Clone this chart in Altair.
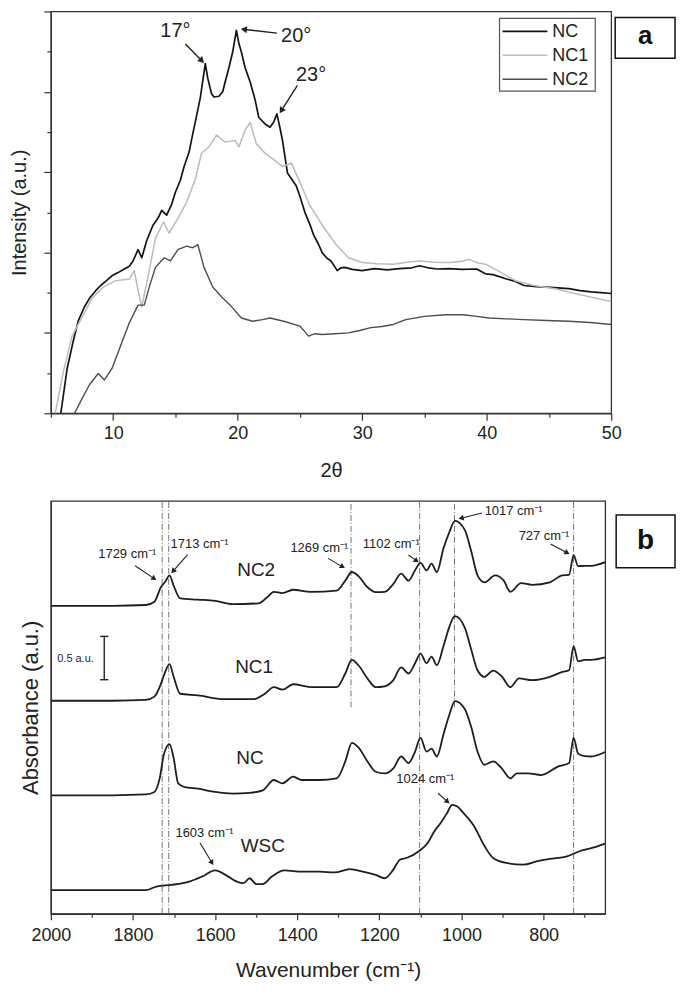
import math
import altair as alt
import pandas as pd

FONT = "Liberation Sans"
INK = "#222222"

# ---------------- panel a : XRD (2θ, intensity a.u.) ----------------
NC_XRD = [(5.8,0.0),(6.3,1.1),(6.8,1.8),(7.2,2.3),(7.7,2.65),(8.1,2.86),(8.6,3.05),(9.0,3.18),(9.4,3.28),(9.9,3.42),
          (10.4,3.5),(10.9,3.59),(11.3,3.66),(11.6,3.79),(12.0,4.07),(12.3,3.87),(12.7,4.3),(13.2,4.68),(13.6,4.85),(13.9,5.05),
          (14.3,4.93),(14.7,5.2),(15.0,5.5),(15.4,5.8),(15.7,6.14),(16.1,6.5),(16.4,6.96),(16.7,7.4),(17.0,7.85),(17.4,8.70),
          (17.6,8.34),(17.9,7.95),(18.1,7.87),(18.5,7.89),(18.8,8.0),(19.0,8.25),(19.3,8.6),(19.6,8.99),(19.9,9.53),(20.1,9.2),
          (20.3,8.99),(20.6,8.6),(21.0,8.25),(21.4,7.8),(21.7,7.36),(22.2,7.2),(22.6,7.12),(22.9,7.25),(23.15,7.45),(23.4,7.1),
          (23.6,6.79),(24.0,5.98),(24.4,5.8),(24.7,5.66),(25.0,5.4),(25.4,5.0),(25.8,4.7),(26.1,4.44),(26.5,4.2),(26.8,3.99),
          (27.2,3.85),(27.5,3.79),(28.0,3.55),(28.3,3.62),(28.6,3.63),(29.2,3.58),(30.0,3.55),(31.0,3.6),(32.0,3.57),(33.0,3.6),
          (34.0,3.62),(34.6,3.67),(35.3,3.62),(36.0,3.59),(37.0,3.6),(38.0,3.58),(39.2,3.59),(39.9,3.47),(40.5,3.45),(41.6,3.34),
          (42.3,3.28),(43.0,3.18),(44.0,3.15),(44.8,3.14),(45.7,3.12),(46.6,3.10),(47.5,3.05),(48.4,3.02),(49.2,3.0),(50.0,2.98)]
NC1_XRD = [(5.35,0.0),(6.0,1.03),(6.7,1.92),(7.4,2.33),(8.3,2.86),(9.2,3.14),(10.2,3.30),(11.3,3.34),(11.7,3.55),(12.0,3.06),
           (12.3,2.65),(12.9,3.55),(13.4,4.36),(14.05,4.76),(14.5,4.48),(15.2,4.85),(15.9,5.25),(16.6,5.82),(17.1,6.47),(17.7,6.63),
           (18.3,6.92),(19.0,6.75),(19.8,6.79),(20.1,6.63),(20.6,7.04),(21.0,7.24),(21.5,6.71),(22.2,6.47),(22.9,6.31),(23.6,6.14),
           (24.3,6.23),(24.9,5.82),(25.8,5.17),(26.8,4.68),(27.9,4.2),(28.9,3.87),(30.0,3.75),(31.2,3.72),(32.5,3.71),(33.6,3.76),
           (34.6,3.79),(35.8,3.76),(37.0,3.75),(38.0,3.78),(38.6,3.83),(39.3,3.74),(39.9,3.71),(40.9,3.55),(42.3,3.30),(43.8,3.18),
           (45.5,3.10),(47.6,2.94),(48.8,2.86),(50.0,2.78)]
NC2_XRD = [(6.9,0.0),(7.4,0.3),(8.1,0.71),(8.8,0.99),(9.3,0.83),(9.9,1.11),(10.6,1.68),(11.3,2.25),(12.0,2.69),(12.5,2.69),
           (12.9,3.14),(13.4,3.63),(14.1,3.87),(14.6,3.79),(15.2,4.07),(15.9,4.16),(16.4,4.12),(16.8,4.2),(17.3,3.63),(18.0,3.14),
           (18.7,2.9),(19.4,2.69),(20.3,2.37),(21.2,2.29),(22.0,2.33),(22.6,2.37),(23.7,2.29),(25.0,2.17),(25.7,1.92),(26.2,1.98),
           (26.8,1.96),(27.8,1.98),(28.9,2.0),(29.8,2.06),(30.7,2.13),(31.6,2.16),(32.5,2.21),(33.5,2.33),(35.0,2.41),(36.7,2.45),
           (38.1,2.45),(39.2,2.41),(40.2,2.37),(41.6,2.35),(43.0,2.33),(44.8,2.31),(46.6,2.29),(48.3,2.26),(50.0,2.21)]
XRD_NAMES = ["NC", "NC1", "NC2"]
XRD_COLORS = ["#141414", "#bdbdbd", "#4e4e4e"]
XRD_WIDTHS = [1.7, 1.4, 1.3]

XRD_PEAK_TEXT = ["17°", "20°", "23°"]
XRD_TEXT_X = [15.0, 24.7, 25.9]
XRD_TEXT_Y = [9.51, 9.39, 8.43]
XRD_ARROW_FROM_X = [15.8, 23.15, 24.8]
XRD_ARROW_FROM_Y = [9.19, 9.46, 8.16]
XRD_ARROW_TO_X = [17.26, 20.3, 23.4]
XRD_ARROW_TO_Y = [8.73, 9.56, 7.48]

XRD_X_MAJOR = [10, 20, 30, 40, 50]
XRD_X_MINOR = [5, 15, 25, 35, 45]
XRD_Y_MAJOR = [0, 2, 4, 6, 8, 10]
XRD_Y_MINOR = [1, 3, 5, 7, 9]

# ---------------- panel b : FTIR (wavenumber, absorbance a.u.) ----------------
WSC_IR = [(2000,0.57),(1769,0.57),(1743,0.66),(1706,0.70),(1663,0.78),(1632,0.90),(1600,1.05),(1568,0.90),(1547,0.78),(1531,0.74),
          (1516,0.86),(1500,0.72),(1484,0.72),(1462,0.90),(1431,1.05),(1388,1.02),(1346,1.02),(1309,1.0),(1272,1.08),(1240,1.02),
          (1209,0.94),(1187,0.86),(1166,1.07),(1150,1.31),(1134,1.35),(1103,1.52),(1082,1.72),(1066,2.0),(1050,2.21),(1034,2.46),
          (1023,2.64),(1010,2.6),(997,2.46),(970,2.13),(944,1.64),(923,1.35),(891,1.23),(849,1.19),(817,1.27),(785,1.33),
          (743,1.39),(711,1.52),(680,1.6),(650,1.70)]
NC_IR = [(2000,2.87),(1850,2.87),(1769,2.89),(1748,2.95),(1735,3.28),(1725,3.85),(1711,4.11),(1701,3.77),(1690,3.16),(1674,3.07),
         (1642,3.03),(1600,2.95),(1558,2.91),(1516,2.93),(1484,2.99),(1457,3.24),(1436,3.16),(1410,3.32),(1389,3.24),(1346,3.24),
         (1304,3.28),(1283,3.69),(1267,4.14),(1251,4.03),(1229,3.69),(1209,3.44),(1187,3.40),(1166,3.52),(1147,3.81),(1129,3.65),
         (1113,3.93),(1100,4.26),(1085,3.93),(1073,4.0),(1060,3.81),(1044,4.34),(1029,4.84),(1016,5.15),(992,4.96),(976,4.51),
         (961,3.93),(944,3.61),(923,3.69),(902,3.52),(881,3.28),(865,3.40),(838,3.40),(806,3.36),(764,3.57),(738,3.65),
         (727,4.26),(716,3.88),(700,3.82),(685,3.81),(650,3.92)]
NC1_IR = [(2000,5.16),(1850,5.16),(1769,5.18),(1748,5.26),(1732,5.57),(1722,5.85),(1711,6.05),(1701,5.74),(1685,5.33),(1642,5.29),
          (1579,5.20),(1505,5.20),(1479,5.33),(1457,5.49),(1436,5.43),(1410,5.56),(1367,5.49),(1304,5.49),(1283,5.82),(1267,6.15),
          (1251,6.02),(1229,5.70),(1209,5.49),(1187,5.51),(1166,5.66),(1147,5.97),(1129,5.82),(1113,6.07),(1100,6.30),(1085,6.07),
          (1073,6.23),(1060,6.02),(1044,6.48),(1029,6.97),(1016,7.21),(992,6.93),(976,6.39),(961,5.90),(944,5.74),(923,5.89),
          (902,5.75),(881,5.49),(860,5.70),(828,5.66),(785,5.74),(754,5.86),(738,5.90),(727,6.48),(716,6.12),(700,6.15),
          (685,6.15),(650,6.21)]
NC2_IR = [(2000,7.46),(1850,7.46),(1769,7.48),(1748,7.56),(1732,7.91),(1721,8.05),(1711,8.20),(1701,7.95),(1685,7.64),(1642,7.61),
          (1600,7.58),(1558,7.50),(1495,7.52),(1474,7.66),(1457,7.80),(1436,7.77),(1410,7.85),(1367,7.80),(1304,7.83),(1283,8.07),
          (1267,8.28),(1251,8.18),(1229,7.91),(1209,7.79),(1187,7.80),(1166,7.99),(1147,8.24),(1129,8.07),(1113,8.32),(1100,8.50),
          (1085,8.32),(1073,8.48),(1060,8.28),(1044,8.85),(1029,9.26),(1016,9.52),(992,9.30),(976,8.77),(961,8.20),(944,8.03),
          (918,8.20),(897,8.07),(881,7.80),(855,8.01),(828,7.97),(785,8.03),(754,8.20),(738,8.21),(727,8.69),(716,8.42),
          (700,8.43),(685,8.43),(650,8.52)]
IR_NAMES = ["WSC", "NC", "NC1", "NC2"]
IR_NAME_X = [1484, 1515, 1505, 1500]
IR_NAME_Y = [1.64, 3.77, 5.98, 8.32]

IR_MARK_WN = [1729, 1713, 1269, 1102, 1017, 727]
IR_MARK_FROM = [0, 0, 5.0, 0, 5.0, 0]

IR_PEAK_TEXT = ["1729 cm⁻¹", "1713 cm⁻¹", "1269 cm⁻¹", "1102 cm⁻¹", "1017 cm⁻¹", "727 cm⁻¹", "1024 cm⁻¹", "1603 cm⁻¹"]
IR_TEXT_X = [1814, 1638, 1346, 1171, 873, 799, 1088, 1626]
IR_TEXT_Y = [8.72, 8.96, 8.87, 8.95, 9.76, 9.15, 3.26, 1.95]
IR_ARROW_FROM_X = [1795, 1667, 1325, 1129, 950, 783, 1057, 1637]
IR_ARROW_FROM_Y = [8.43, 8.70, 8.61, 8.69, 9.71, 8.96, 2.92, 1.72]
IR_ARROW_TO_X = [1744, 1706, 1285, 1105, 1006, 738, 1030, 1605]
IR_ARROW_TO_Y = [8.09, 8.26, 8.38, 8.52, 9.57, 8.72, 2.68, 1.19]

IR_X_MAJOR = [2000, 1800, 1600, 1400, 1200, 1000, 800]
IR_X_MINOR = [1900, 1700, 1500, 1300, 1100, 900, 700]

SCALE_BAR_WN = 1870
SCALE_BAR_Y = [5.67, 6.72]
SCALE_BAR_TEXT = "0.5 a.u."
SCALE_TEXT_XY = (1940, 6.18)

# ---------------- layout ----------------
A_W, A_H = 562, 403
B_W, B_H = 556, 414
XA_DOM = [5, 50]
YA_DOM = [0, 10]
XB_DOM = [650, 2000]
YB_DOM = [0, 10]


def arrows(x1s, y1s, x2s, y2s, kx, ky, back=3.5):
    shafts, heads = [], []
    for x1, y1, x2, y2 in zip(x1s, y1s, x2s, y2s):
        dx = (x2 - x1) * kx
        dy = -(y2 - y1) * ky
        L = math.hypot(dx, dy)
        ux, uy = dx / L, dy / L
        ang = math.degrees(math.atan2(ux, -uy)) % 360
        hx = x2 - ux * back / kx
        hy = y2 + uy * back / ky
        shafts.append({"x": x1, "y": y1, "x2": hx, "y2": hy})
        heads.append({"x": hx, "y": hy, "ang": ang})
    return pd.DataFrame(shafts), pd.DataFrame(heads)


# ================= panel a =================
xa_sc = alt.Scale(domain=XA_DOM, nice=False, zero=False)
ya_sc = alt.Scale(domain=YA_DOM, nice=False, zero=False)

rows = []
for name, pts in zip(XRD_NAMES, [NC_XRD, NC1_XRD, NC2_XRD]):
    for x, y in pts:
        rows.append({"x": x, "y": y, "series": name})
df_xrd = pd.DataFrame(rows)

lines_a = alt.Chart(df_xrd).mark_line(strokeJoin="round", clip=True).encode(
    x=alt.X("x:Q", scale=xa_sc, axis=alt.Axis(values=XRD_X_MAJOR, orient="bottom", format="d", tickSize=7,
                                             labelPadding=4, labelFontSize=18, labelFlush=False, title="2θ",
                                             titleFontSize=20, titlePadding=18)),
    y=alt.Y("y:Q", scale=ya_sc, axis=alt.Axis(values=XRD_Y_MAJOR, orient="left", labels=False, tickSize=7,
                                             title="Intensity (a.u.)", titleFontSize=20, titlePadding=14)),
    color=alt.Color("series:N", scale=alt.Scale(domain=XRD_NAMES, range=XRD_COLORS), legend=None),
    strokeWidth=alt.StrokeWidth("series:N", scale=alt.Scale(domain=XRD_NAMES, range=XRD_WIDTHS), legend=None),
)

minor_a = alt.Chart(pd.DataFrame({"x": [XA_DOM[0]], "y": [YA_DOM[0]]})).mark_point(opacity=0).encode(
    x=alt.X("x:Q", scale=xa_sc, axis=alt.Axis(values=XRD_X_MINOR, orient="bottom", labels=False, tickSize=4,
                                             domain=False, title=None)),
    y=alt.Y("y:Q", scale=ya_sc, axis=alt.Axis(values=XRD_Y_MINOR, orient="left", labels=False, tickSize=4,
                                             domain=False, title=None)),
)

df_a_txt = pd.DataFrame({"x": XRD_TEXT_X, "y": XRD_TEXT_Y, "t": XRD_PEAK_TEXT})
text_a = alt.Chart(df_a_txt).mark_text(font=FONT, fontSize=20, color=INK).encode(
    x=alt.X("x:Q", scale=xa_sc, axis=None), y=alt.Y("y:Q", scale=ya_sc, axis=None), text="t:N")

sh_a, hd_a = arrows(XRD_ARROW_FROM_X, XRD_ARROW_FROM_Y, XRD_ARROW_TO_X, XRD_ARROW_TO_Y,
                    A_W / (XA_DOM[1] - XA_DOM[0]), A_H / (YA_DOM[1] - YA_DOM[0]))
shaft_a = alt.Chart(sh_a).mark_rule(color=INK, strokeWidth=1.4).encode(
    x=alt.X("x:Q", scale=xa_sc, axis=None), y=alt.Y("y:Q", scale=ya_sc, axis=None), x2="x2:Q", y2="y2:Q")
head_a = alt.Chart(hd_a).mark_point(shape="triangle", filled=True, size=50, color=INK, opacity=1).encode(
    x=alt.X("x:Q", scale=xa_sc, axis=None), y=alt.Y("y:Q", scale=ya_sc, axis=None),
    angle=alt.Angle("ang:Q", scale=None))

# legend (drawn as a boxed key in the upper right of the plot)
LEG_X0, LEG_Y0, LEG_W, LEG_H, LEG_ROW = 450, 7, 96, 73, 24
one = pd.DataFrame({"k": [0]})
leg_layers = [alt.Chart(one).mark_rect(fill="white", stroke="#555", strokeWidth=1.2).encode(
    x=alt.value(LEG_X0), x2=alt.value(LEG_X0 + LEG_W), y=alt.value(LEG_Y0), y2=alt.value(LEG_Y0 + LEG_H))]
for i, (name, col, w) in enumerate(zip(XRD_NAMES, XRD_COLORS, XRD_WIDTHS)):
    yy = LEG_Y0 + 13 + i * LEG_ROW
    leg_layers.append(alt.Chart(one).mark_rule(color=col, strokeWidth=w + 0.2).encode(
        x=alt.value(LEG_X0 + 3), x2=alt.value(LEG_X0 + 48), y=alt.value(yy), y2=alt.value(yy)))
    leg_layers.append(alt.Chart(pd.DataFrame({"t": [name]})).mark_text(
        font=FONT, fontSize=18, color=INK, align="left", baseline="middle").encode(
        x=alt.value(LEG_X0 + 53), y=alt.value(yy + 1), text="t:N"))

box_a = alt.Chart(one).mark_rect(fill="white", stroke="#111", strokeWidth=1.5).encode(
    x=alt.value(566), x2=alt.value(626), y=alt.value(6), y2=alt.value(47))
lab_a = alt.Chart(pd.DataFrame({"t": ["a"]})).mark_text(
    font=FONT, fontSize=26, fontWeight="bold", color="#111", baseline="middle").encode(
    x=alt.value(596), y=alt.value(25), text="t:N")

panel_a = alt.layer(lines_a, minor_a, text_a, shaft_a, head_a, *leg_layers, box_a, lab_a).resolve_axis(
    x="independent", y="independent").properties(width=A_W, height=A_H)

# ================= panel b =================
xb_sc = alt.Scale(domain=XB_DOM, reverse=True, nice=False, zero=False)
yb_sc = alt.Scale(domain=YB_DOM, nice=False, zero=False)

rows = []
for name, pts in zip(IR_NAMES, [WSC_IR, NC_IR, NC1_IR, NC2_IR]):
    for x, y in pts:
        rows.append({"x": x, "y": y, "series": name})
df_ir = pd.DataFrame(rows)

lines_b = alt.Chart(df_ir).mark_line(color="#1e1e1e", strokeWidth=1.8, interpolate="monotone",
                                     strokeJoin="round", clip=True).encode(
    x=alt.X("x:Q", scale=xb_sc, axis=alt.Axis(values=IR_X_MAJOR, orient="bottom", format="d", tickSize=6,
                                             labelPadding=7, labelFontSize=18, labelFlush=False,
                                             title="Wavenumber (cm⁻¹)", titleFontSize=21, titlePadding=15)),
    y=alt.Y("y:Q", scale=yb_sc, axis=alt.Axis(orient="left", labels=False, ticks=False,
                                             title="Absorbance (a.u.)", titleFontSize=22, titlePadding=8)),
    detail="series:N",
)

minor_b = alt.Chart(pd.DataFrame({"x": [XB_DOM[1]], "y": [YB_DOM[0]]})).mark_point(opacity=0).encode(
    x=alt.X("x:Q", scale=xb_sc, axis=alt.Axis(values=IR_X_MINOR, orient="bottom", labels=False, tickSize=3.5,
                                             domain=False, title=None)),
    y=alt.Y("y:Q", scale=yb_sc, axis=None),
)

df_marks = pd.DataFrame({"x": IR_MARK_WN, "y": IR_MARK_FROM, "y2": [YB_DOM[1]] * len(IR_MARK_WN)})
vlines_b = alt.Chart(df_marks).mark_rule(color="#666", strokeWidth=0.9, strokeDash=[6, 2, 1, 2]).encode(
    x=alt.X("x:Q", scale=xb_sc, axis=None), y=alt.Y("y:Q", scale=yb_sc, axis=None), y2="y2:Q")

names_b = alt.Chart(pd.DataFrame({"x": IR_NAME_X, "y": IR_NAME_Y, "t": IR_NAMES})).mark_text(
    font=FONT, fontSize=19, color=INK).encode(
    x=alt.X("x:Q", scale=xb_sc, axis=None), y=alt.Y("y:Q", scale=yb_sc, axis=None), text="t:N")

peaks_b = alt.Chart(pd.DataFrame({"x": IR_TEXT_X, "y": IR_TEXT_Y, "t": IR_PEAK_TEXT})).mark_text(
    font=FONT, fontSize=13, color=INK).encode(
    x=alt.X("x:Q", scale=xb_sc, axis=None), y=alt.Y("y:Q", scale=yb_sc, axis=None), text="t:N")

sh_b, hd_b = arrows(IR_ARROW_FROM_X, IR_ARROW_FROM_Y, IR_ARROW_TO_X, IR_ARROW_TO_Y,
                    -B_W / (XB_DOM[1] - XB_DOM[0]), B_H / (YB_DOM[1] - YB_DOM[0]), back=3)
shaft_b = alt.Chart(sh_b).mark_rule(color=INK, strokeWidth=1.1).encode(
    x=alt.X("x:Q", scale=xb_sc, axis=None), y=alt.Y("y:Q", scale=yb_sc, axis=None), x2="x2:Q", y2="y2:Q")
head_b = alt.Chart(hd_b).mark_point(shape="triangle", filled=True, size=36, color=INK, opacity=1).encode(
    x=alt.X("x:Q", scale=xb_sc, axis=None), y=alt.Y("y:Q", scale=yb_sc, axis=None),
    angle=alt.Angle("ang:Q", scale=None))

cap = 10  # half-width of the scale-bar caps, in wavenumber units
df_bar = pd.DataFrame({
    "x": [SCALE_BAR_WN, SCALE_BAR_WN - cap, SCALE_BAR_WN - cap],
    "x2": [SCALE_BAR_WN, SCALE_BAR_WN + cap, SCALE_BAR_WN + cap],
    "y": [SCALE_BAR_Y[0], SCALE_BAR_Y[0], SCALE_BAR_Y[1]],
    "y2": [SCALE_BAR_Y[1], SCALE_BAR_Y[0], SCALE_BAR_Y[1]],
})
bar_b = alt.Chart(df_bar).mark_rule(color=INK, strokeWidth=1.4).encode(
    x=alt.X("x:Q", scale=xb_sc, axis=None), x2="x2:Q", y=alt.Y("y:Q", scale=yb_sc, axis=None), y2="y2:Q")
bar_txt = alt.Chart(pd.DataFrame({"x": [SCALE_TEXT_XY[0]], "y": [SCALE_TEXT_XY[1]], "t": [SCALE_BAR_TEXT]})).mark_text(
    font=FONT, fontSize=11, color=INK).encode(
    x=alt.X("x:Q", scale=xb_sc, axis=None), y=alt.Y("y:Q", scale=yb_sc, axis=None), text="t:N")

box_b = alt.Chart(one).mark_rect(fill="white", stroke="#111", strokeWidth=1.5).encode(
    x=alt.value(567), x2=alt.value(626), y=alt.value(14), y2=alt.value(67))
lab_b = alt.Chart(pd.DataFrame({"t": ["b"]})).mark_text(
    font=FONT, fontSize=28, fontWeight="bold", color="#111", baseline="middle").encode(
    x=alt.value(596.5), y=alt.value(40), text="t:N")

panel_b = alt.layer(vlines_b, lines_b, minor_b, names_b, peaks_b, shaft_b, head_b, bar_b, bar_txt,
                    box_b, lab_b).resolve_axis(x="independent", y="independent").properties(width=B_W, height=B_H)

chart = alt.vconcat(panel_a, panel_b, spacing=18).properties(
    padding={"left": 0, "right": 0, "top": 0, "bottom": 0}
).configure_view(stroke="#333", strokeWidth=1.3).configure_axis(
    domainColor="#333", domainWidth=1.3, tickColor="#333", tickWidth=1.2, labelColor=INK, titleColor=INK,
    grid=False, labelFont=FONT, titleFont=FONT, titleFontWeight="normal")

chart.save("out.html", embed_options={"renderer": "svg", "actions": False})
